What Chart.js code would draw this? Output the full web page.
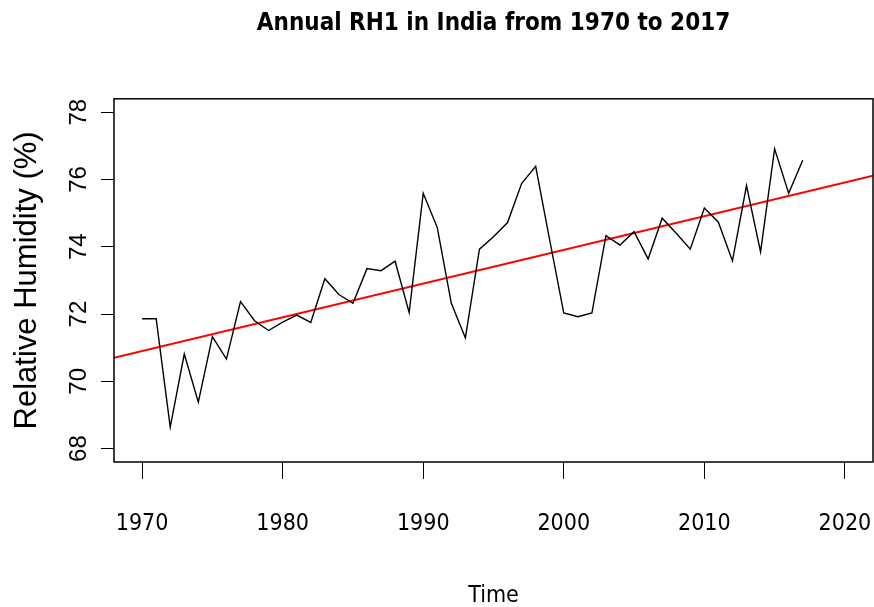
<!DOCTYPE html>
<html>
<head>
<meta charset="utf-8">
<script src="https://cdn.jsdelivr.net/npm/chart.js@4.4.1/dist/chart.umd.min.js"></script>
<style>
    html, body { margin: 0; padding: 0; background: #fff; }
    #wrap { width: 874px; height: 607px; }
</style>
</head>
<body>
<div id="wrap"><canvas id="chart"></canvas></div>
<script>
// Annual relative humidity
const years = [
    1970, 1971, 1972, 1973, 1974, 1975, 1976, 1977, 1978, 1979,
    1980, 1981, 1982, 1983, 1984, 1985, 1986, 1987, 1988, 1989,
    1990, 1991, 1992, 1993, 1994, 1995, 1996, 1997, 1998, 1999,
    2000, 2001, 2002, 2003, 2004, 2005, 2006, 2007, 2008, 2009,
    2010, 2011, 2012, 2013, 2014, 2015, 2016, 2017
];
const rh = [
    71.86, 71.86, 68.64, 70.81, 69.38, 71.33, 70.66, 72.37, 71.80, 71.51,
    71.76, 71.97, 71.75, 73.05, 72.58, 72.32, 73.35, 73.29, 73.57, 72.04,
    75.59, 74.57, 72.32, 71.29, 73.93, 74.30, 74.72, 75.88, 76.39, 74.20,
    72.03, 71.92, 72.03, 74.33, 74.05, 74.45, 73.64, 74.85, 74.40, 73.93,
    75.15, 74.73, 73.58, 75.82, 73.85, 76.91, 75.59, 76.57
];

// Fitted trend line, endpoints at the plot edges
const trendYears = [1968, 2022];
const trendRh = [70.70, 76.11];

const xTicks = [1970, 1980, 1990, 2000, 2010, 2020];
const yTicks = [68, 70, 72, 74, 76, 78];

const narrow = "'Liberation Sans Narrow', 'DejaVu Sans Condensed', 'Liberation Sans', Arial, sans-serif";
const regular = "'Liberation Sans', Arial, sans-serif";

// R style box round the plot region
const boxPlugin = {
    id: 'box',
    afterDraw(chart) {
        const { ctx, chartArea: a } = chart;
        ctx.save();
        ctx.strokeStyle = '#000';
        ctx.lineWidth = 1.5;
        ctx.strokeRect(a.left, a.top, a.right - a.left, a.bottom - a.top);
        ctx.restore();
    }
};

const ctx = document.getElementById('chart').getContext('2d');
new Chart(ctx, {
    type: 'line',
    data: {
        datasets: [
            {
                label: 'RH1',
                data: years.map((y, i) => ({ x: y, y: rh[i] })),
                borderColor: '#000',
                borderWidth: 1.4,
                pointRadius: 0,
                tension: 0,
                fill: false
            },
            {
                label: 'Trend',
                data: trendYears.map((y, i) => ({ x: y, y: trendRh[i] })),
                borderColor: '#ff0000',
                borderWidth: 2,
                pointRadius: 0,
                tension: 0,
                fill: false
            }
        ]
    },
    options: {
        responsive: true,
        maintainAspectRatio: false,
        animation: false,
        layout: { padding: { left: 0, right: 1, top: 0, bottom: 0 } },
        plugins: {
            legend: { display: false },
            tooltip: { enabled: false },
            title: {
                display: true,
                fullSize: false,
                text: 'Annual RH1 in India from 1970 to 2017',
                color: '#000',
                font: { family: narrow, size: 24, weight: 'bold', lineHeight: 1.2 },
                padding: { top: 9, bottom: 61 }
            }
        },
        scales: {
            x: {
                type: 'linear',
                min: 1968,
                max: 2022,
                afterBuildTicks: (scale) => { scale.ticks = xTicks.map(v => ({ value: v })); },
                afterFit: (scale) => {
                    scale.height = 145;
                    scale.paddingLeft = 0;
                    scale.paddingRight = 0;
                },
                border: { display: false },
                grid: {
                    drawOnChartArea: false,
                    drawTicks: true,
                    tickLength: 17,
                    color: '#000',
                    lineWidth: 1
                },
                ticks: {
                    color: '#000',
                    font: { family: narrow, size: 23 },
                    padding: 31,
                    maxRotation: 0,
                    autoSkip: false,
                    callback: (v) => String(v)
                },
                title: {
                    display: true,
                    text: 'Time',
                    color: '#000',
                    font: { family: narrow, size: 23, lineHeight: 0.9 },
                    padding: { top: 0, bottom: 1 }
                }
            },
            y: {
                min: 67.6,
                max: 78.4,
                afterBuildTicks: (scale) => { scale.ticks = yTicks.map(v => ({ value: v })); },
                afterFit: (scale) => {
                    scale.width = 114;
                    scale.paddingTop = 0;
                    scale.paddingBottom = 0;
                },
                border: { display: false },
                grid: {
                    drawOnChartArea: false,
                    drawTicks: true,
                    tickLength: 13,
                    color: '#000',
                    lineWidth: 1
                },
                ticks: {
                    color: '#000',
                    font: { family: regular, size: 24 },
                    minRotation: 90,
                    maxRotation: 90,
                    crossAlign: 'center',
                    padding: 8,
                    autoSkip: false,
                    callback: (v) => String(v)
                },
                title: {
                    display: true,
                    text: 'Relative Humidity (%)',
                    color: '#000',
                    font: { family: regular, size: 31 },
                    padding: { top: 9, bottom: 0 }
                }
            }
        }
    },
    plugins: [boxPlugin]
});
</script>
</body>
</html>
